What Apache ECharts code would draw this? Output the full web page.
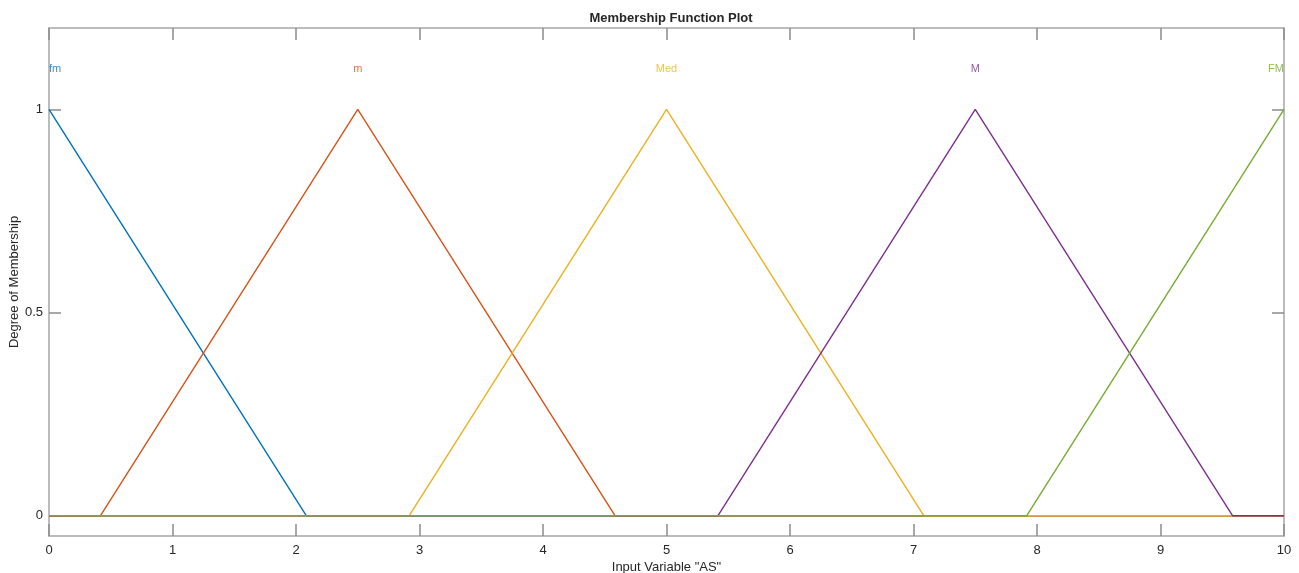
<!DOCTYPE html>
<html><head><meta charset="utf-8">
<script src="https://cdn.jsdelivr.net/npm/echarts@6/dist/echarts.min.js"></script>
<style>html,body{margin:0;padding:0;background:#fff}#c{width:1299px;height:573px}</style>
</head><body><div id="c"></div>
<script>
const names = ['fm', 'm', 'Med', 'M', 'FM'];
const colors = ['#0072BD', '#D95319', '#EDB120', '#7E2F8E', '#77AC30'];
const fmX = [0, 2.083, 10];        const fmY = [1, 0, 0];
const mX = [0, 0.417, 2.5, 4.583, 10]; const mY = [0, 0, 1, 0, 0];
const medX = [0, 2.917, 5, 7.083, 10]; const medY = [0, 0, 1, 0, 0];
const MX = [0, 5.417, 7.5, 9.583, 10]; const MY = [0, 0, 1, 0, 0];
const FMX = [0, 7.917, 10];        const FMY = [0, 0, 1];
const labelX = [0, 2.5, 5, 7.5, 10];
const labelY = 1.1;
const xTicks = [0,1,2,3,4,5,6,7,8,9,10];
const yTicks = [0, 0.5, 1];

const xs = [fmX, mX, medX, MX, FMX];
const ys = [fmY, mY, medY, MY, FMY];
const font = 'Liberation Sans, Arial, Helvetica, sans-serif';
const axisCol = '#a6a6a6';
const txtCol = '#262626';

const series = names.map((n, i) => ({
  type: 'line', name: n, showSymbol: false, symbol: 'none',
  data: xs[i].map((x, k) => [x, ys[i][k]]),
  lineStyle: { color: colors[i], width: 1.4 }, itemStyle: { color: colors[i] },
  animation: false, z: 2 + i
}));
series.push({
  type: 'scatter', symbolSize: 0, animation: false, z: 10,
  data: names.map((n, i) => ({
    value: [labelX[i], labelY], name: n,
    label: { show: true, formatter: n, color: colors[i], position: 'inside',
      align: i === 0 ? 'left' : (i === names.length - 1 ? 'right' : 'center'),
      verticalAlign: 'middle', fontSize: 11, fontFamily: font }
  }))
});

const xBase = (pos, showLabel) => ({
  type: 'value', position: pos, min: 0, max: 10, interval: 1,
  axisLine: { show: true, onZero: false, lineStyle: { color: axisCol, width: 1.5 } },
  axisTick: { show: true, inside: true, length: 12, lineStyle: { color: '#8c8c8c', width: 1.5 } },
  axisLabel: { show: showLabel, color: txtCol, fontSize: 13, fontFamily: font, margin: 8 },
  splitLine: { show: false },
  name: showLabel ? 'Input Variable "AS"' : '', nameLocation: 'middle', nameGap: 25,
  nameMoveOverlap: false,
  nameTextStyle: { color: txtCol, fontSize: 13, fontFamily: font }
});
const yBase = (pos, showLabel) => ({
  type: 'value', position: pos, min: -0.05, max: 1.2,
  axisLine: { show: true, onZero: false, lineStyle: { color: axisCol, width: 1.5 } },
  axisTick: { show: true, inside: true, length: 12, customValues: yTicks, lineStyle: { color: '#8c8c8c', width: 1.5 } },
  axisLabel: { show: showLabel, customValues: yTicks, color: txtCol, fontSize: 13, fontFamily: font, margin: 6 },
  splitLine: { show: false },
  name: showLabel ? 'Degree of Membership' : '', nameLocation: 'middle', nameGap: 28,
  nameMoveOverlap: false,
  nameTextStyle: { color: txtCol, fontSize: 13, fontFamily: font }
});

const chart = echarts.init(document.getElementById('c'), null, { renderer: 'canvas' });
chart.setOption({
  backgroundColor: '#fff',
  animation: false,
  title: { text: 'Membership Function Plot', left: 666, textAlign: 'center', top: 7,
    textStyle: { fontSize: 13, fontWeight: 'bold', color: txtCol, fontFamily: font } },
  grid: { left: 49, right: 15, top: 28, bottom: 37, containLabel: false, outerBoundsMode: 'none' },
  xAxis: [xBase('bottom', true), xBase('top', false)],
  yAxis: [yBase('left', true), yBase('right', false)],
  series: series
});
</script></body></html>
